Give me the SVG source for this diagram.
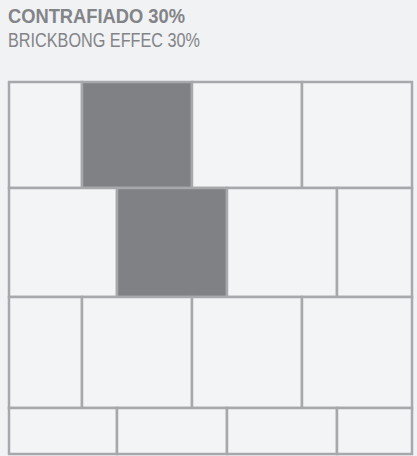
<svg xmlns="http://www.w3.org/2000/svg" width="417" height="456" viewBox="0 0 417 456">
<style>
.c{fill:#f3f4f6;stroke:#a7a8ab;stroke-width:2.5}
.d{fill:#808185;stroke:#a7a8ab;stroke-width:2.5}
.t{font-family:"Liberation Sans",Arial,sans-serif;fill:#838487}
</style>
<rect width="417" height="456" fill="#f1f2f4"/>
<text class="t" x="8" y="22.5" font-size="20.5" font-weight="bold" textLength="177" lengthAdjust="spacingAndGlyphs">CONTRAFIADO 30%</text>
<text class="t" x="8" y="47" font-size="19.5" textLength="192" lengthAdjust="spacingAndGlyphs">BRICKBONG EFFEC 30%</text>
<g id="row1">
<rect class="c" x="9" y="82" width="73" height="106"/>
<rect class="d" x="82" y="82" width="110" height="106"/>
<rect class="c" x="192" y="82" width="110" height="106"/>
<rect class="c" x="302" y="82" width="110" height="106"/>
</g>
<g id="row2">
<rect class="c" x="9" y="188" width="108" height="109"/>
<rect class="d" x="117" y="188" width="110" height="109"/>
<rect class="c" x="227" y="188" width="110" height="109"/>
<rect class="c" x="337" y="188" width="75" height="109"/>
</g>
<g id="row3">
<rect class="c" x="9" y="297" width="73" height="111"/>
<rect class="c" x="82" y="297" width="110" height="111"/>
<rect class="c" x="192" y="297" width="110" height="111"/>
<rect class="c" x="302" y="297" width="110" height="111"/>
</g>
<g id="row4">
<rect class="c" x="9" y="408" width="108" height="46"/>
<rect class="c" x="117" y="408" width="110" height="46"/>
<rect class="c" x="227" y="408" width="110" height="46"/>
<rect class="c" x="337" y="408" width="75" height="46"/>
</g>
</svg>
